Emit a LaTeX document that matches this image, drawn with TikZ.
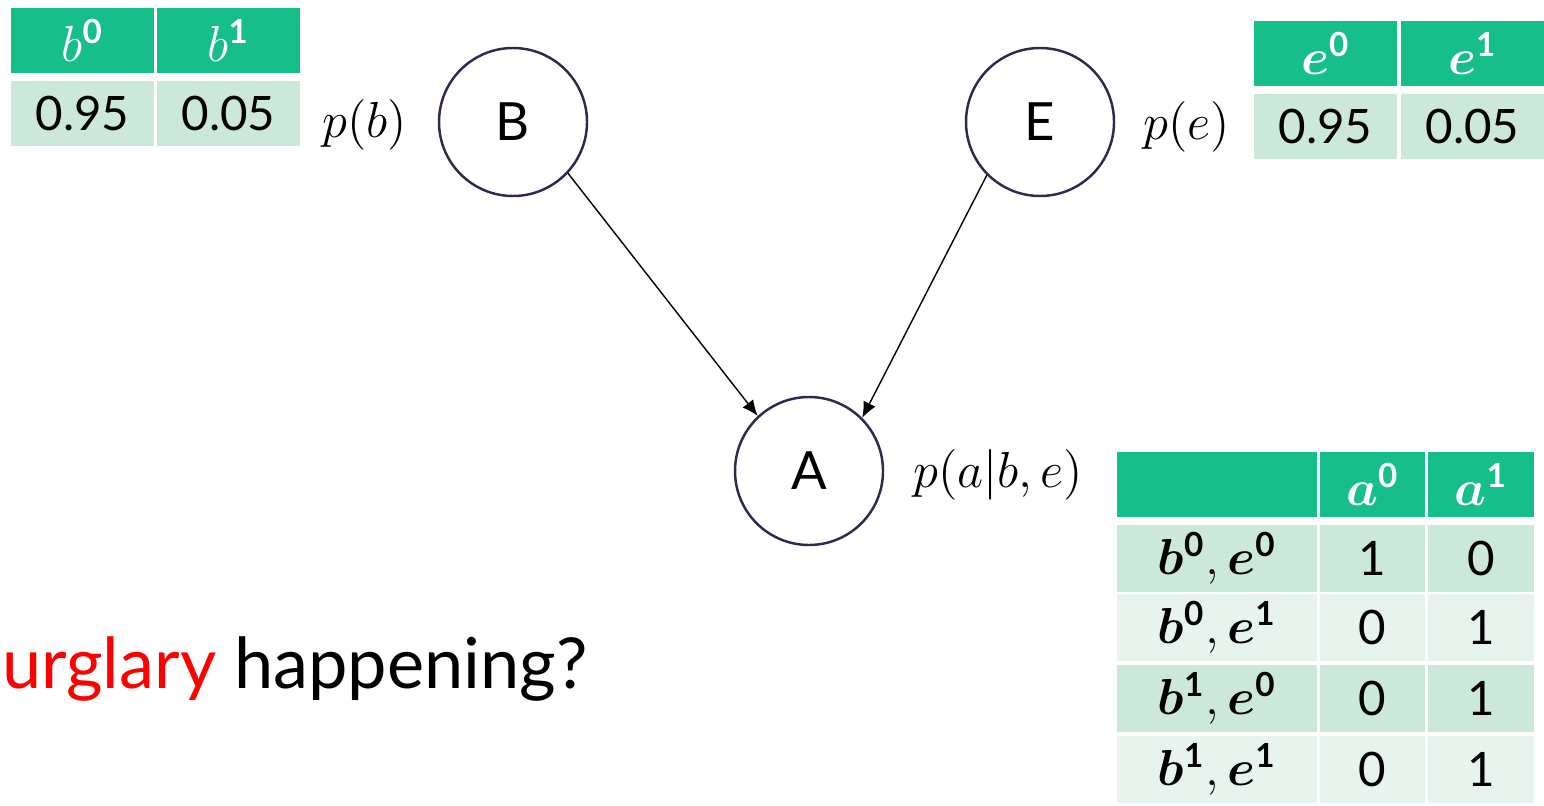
\documentclass[tikz,border=0pt]{standalone}
\usepackage{fontspec}
\setmainfont{Lato}
\usepackage{bm}
\usetikzlibrary{arrows.meta}

\definecolor{hdr}{HTML}{16BE8A}
\definecolor{rowdark}{HTML}{CCE8DB}
\definecolor{rowlight}{HTML}{E7F4EE}
\definecolor{ring}{HTML}{2E2A4F}

\begin{document}
\begin{tikzpicture}[x=0.1mm, y=-0.1mm,
    var/.style={circle, draw=ring, line width=0.7pt, minimum size=14.8mm, font=\fontsize{15}{17}\selectfont},
    cell/.style={inner sep=0, minimum height=6.5mm, font=\fontsize{13.5}{16}\selectfont},
    hcell/.style={cell, fill=hdr, text=white},
    edge/.style={-{Latex[length=4.5pt,width=3.8pt]}, line width=0.4pt},
    lbl/.style={font=\fontsize{15}{18}\selectfont}]
  \useasboundingbox (0,0) rectangle (1544,805);

  % Variables
  \node[var] (B) at (513,122) {B};
  \node[var] (E) at (1040,122) {E};
  \node[var] (A) at (809,471) {A};

  \draw[edge] (B.-43) -- (A.133.5);
  \draw[edge] (E.225) -- (A.45);

  % Factor labels
  \node[lbl] (pb) at (365,125) {$p(b)$};
  \node[lbl] (pe) at (1187,127) {$p(e)$};
  \node[lbl] (pa) at (998,475) {$p(a|b,e)$};

  % Prior tables
  \foreach \i/\val/\cx in {0/0.95/82.5, 1/0.05/228.5} {
    \node[hcell, minimum width=14.3mm] (bh\i) at (\cx,40.5) {$b^{\mathbf{\i}}$};
    \node[cell, fill=rowdark, minimum width=14.3mm] (bv\i) at (\cx,114) {\val};
  }
  \foreach \i/\val/\cx in {0/0.95/1325.5, 1/0.05/1472.5} {
    \node[hcell, minimum width=14.3mm] (eh\i) at (\cx,53.5) {$\bm{e}^{\mathbf{\i}}$};
    \node[cell, fill=rowdark, minimum width=14.3mm] (ev\i) at (\cx,127) {\val};
  }

  % Conditional table
  \node[hcell, minimum width=20mm] (ah) at (1217,484.5) {};
  \node[hcell, minimum width=10.5mm] (ah0) at (1372.5,484.5) {$\bm{a}^{\mathbf{0}}$};
  \node[hcell, minimum width=10.6mm] (ah1) at (1481,484.5) {$\bm{a}^{\mathbf{1}}$};
  \foreach \bi/\ei/\pz/\po/\cy/\shade [count=\n] in {
      0/0/1/0/558/rowdark,
      0/1/0/1/627.5/rowlight,
      1/0/0/1/698.5/rowdark,
      1/1/0/1/769.5/rowlight} {
    \node[cell, fill=\shade, minimum width=20mm, minimum height=6.7mm] (ar\n) at (1217,\cy) {$\bm{b}^{\mathbf{\bi}}, \bm{e}^{\mathbf{\ei}}$};
    \node[cell, fill=\shade, minimum width=10.5mm, minimum height=6.7mm] (az\n) at (1372.5,\cy) {\pz};
    \node[cell, fill=\shade, minimum width=10.6mm, minimum height=6.7mm] (ao\n) at (1481,\cy) {\po};
  }

  % Question
  \node[anchor=base east, font=\fontsize{20}{24}\selectfont] (q) at (600,688) {\textcolor{red}{burglary} happening?};
\end{tikzpicture}
\end{document}
